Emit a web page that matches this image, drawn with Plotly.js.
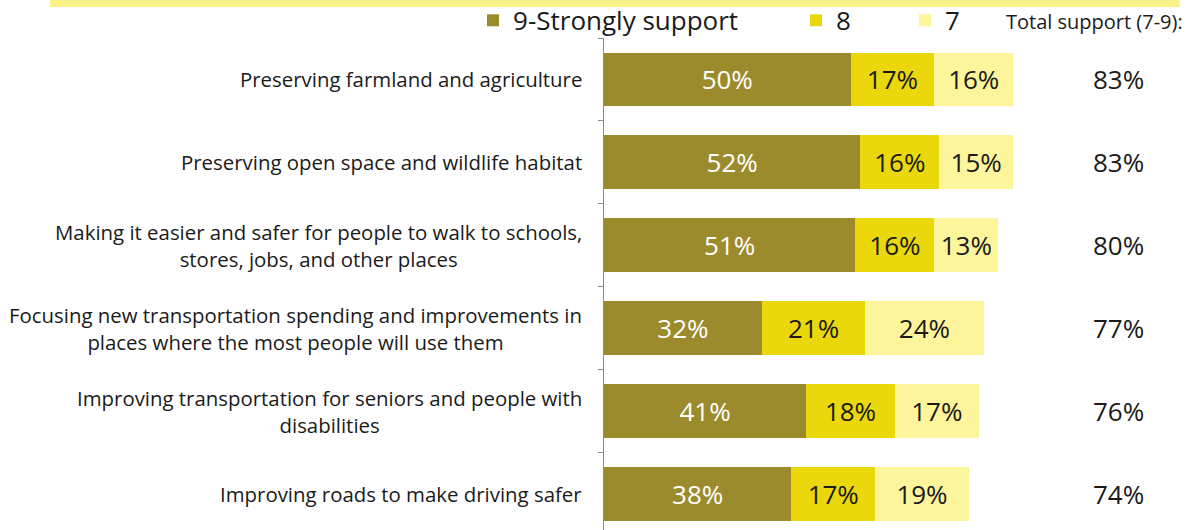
<!DOCTYPE html>
<html><head><meta charset="utf-8">
<script src="https://cdn.plot.ly/plotly-3.0.1.min.js"></script>
<style>html,body{margin:0;padding:0;background:#fff;}#chart{width:1191px;height:530px;}</style>
</head><body><div id="chart"></div>
<script>
const categories = [
  "Preserving farmland and agriculture",
  "Preserving open space and wildlife habitat",
  "Making it easier and safer for people to walk to schools,<br>stores, jobs, and other places",
  "Focusing new transportation spending and improvements in<br>places where the most people will use them",
  "Improving transportation for seniors and people with<br>disabilities",
  "Improving roads to make driving safer"
];
const strongly9 = [50, 52, 51, 32, 41, 38];
const support8 = [17, 16, 16, 21, 18, 17];
const support7 = [16, 15, 13, 24, 17, 19];
const totals = [83, 83, 80, 77, 76, 74];
const seriesNames = ["9-Strongly support", "8", "7"];
const totalHeader = "Total support (7-9):";

const FONT = "'Open Sans', sans-serif";
const colors = ["#9c8b2c", "#ebd80c", "#fdf59c"];
const textColors = ["#ffffff", "#1a1a1a", "#1a1a1a"];
const legendIds = ["legend", "legend2", "legend3"];
const ids = categories.map((c, i) => "c" + i);

function barTrace(vals, k) {
  return {
    type: "bar", orientation: "h", name: seriesNames[k], legend: legendIds[k],
    y: ids, x: vals, width: 0.65,
    marker: {color: colors[k], line: {width: 0}},
    text: vals.map(v => v + "%"), textposition: "inside", insidetextanchor: "middle",
    textfont: {family: FONT, size: 26, color: textColors[k]},
    hoverinfo: "skip"
  };
}
const data = [barTrace(strongly9, 0), barTrace(support8, 1), barTrace(support7, 2)];

const annotations = [];
categories.forEach((c, i) => {
  annotations.push({xref: "paper", yref: "y", x: 0, y: ids[i], xanchor: "right", xshift: -20,
    text: c, showarrow: false, align: "center", font: {family: FONT, size: 20.4, color: "#1a1a1a"}});
  annotations.push({xref: "paper", yref: "y", x: 1.043, y: ids[i], xanchor: "center",
    text: totals[i] + "%", showarrow: false, font: {family: FONT, size: 26, color: "#1a1a1a"}});
});
annotations.push({xref: "paper", yref: "paper", x: 1.1785, y: 1.0335, xanchor: "right", yanchor: "middle",
  text: totalHeader, showarrow: false, font: {family: FONT, size: 20, color: "#1a1a1a"}});

function legendAt(x) {
  return {orientation: "h", x: x, xanchor: "left", y: 1.036, yanchor: "middle",
    font: {family: FONT, size: 26, color: "#1a1a1a"}, bgcolor: "rgba(0,0,0,0)", borderwidth: 0};
}

const layout = {
  width: 1191, height: 530,
  margin: {l: 604, r: 94, t: 38, b: 0, pad: 0, autoexpand: false},
  paper_bgcolor: "#ffffff", plot_bgcolor: "#ffffff",
  barmode: "stack", bargap: 0.35,
  showlegend: true,
  legend: legendAt(-0.2657),
  legend2: legendAt(0.3895),
  legend3: legendAt(0.6105),
  xaxis: {range: [0, 100], showgrid: false, zeroline: false, showticklabels: false, showline: false, ticks: ""},
  yaxis: {type: "category", range: [5.43, -0.5], showgrid: false, zeroline: false,
    showticklabels: false, showline: true, linecolor: "#8a8a8a", linewidth: 1,
    ticks: "outside", tickson: "boundaries", ticklen: 5, tickcolor: "#8a8a8a"},
  shapes: [{type: "rect", xref: "paper", yref: "paper", x0: -1.124, x1: 1.168, y0: 1.063, y1: 1.09,
    fillcolor: "#f9f286", line: {width: 0}, layer: "below"}],
  annotations: annotations
};
Plotly.newPlot("chart", data, layout, {displayModeBar: false, staticPlot: true});
</script></body></html>
